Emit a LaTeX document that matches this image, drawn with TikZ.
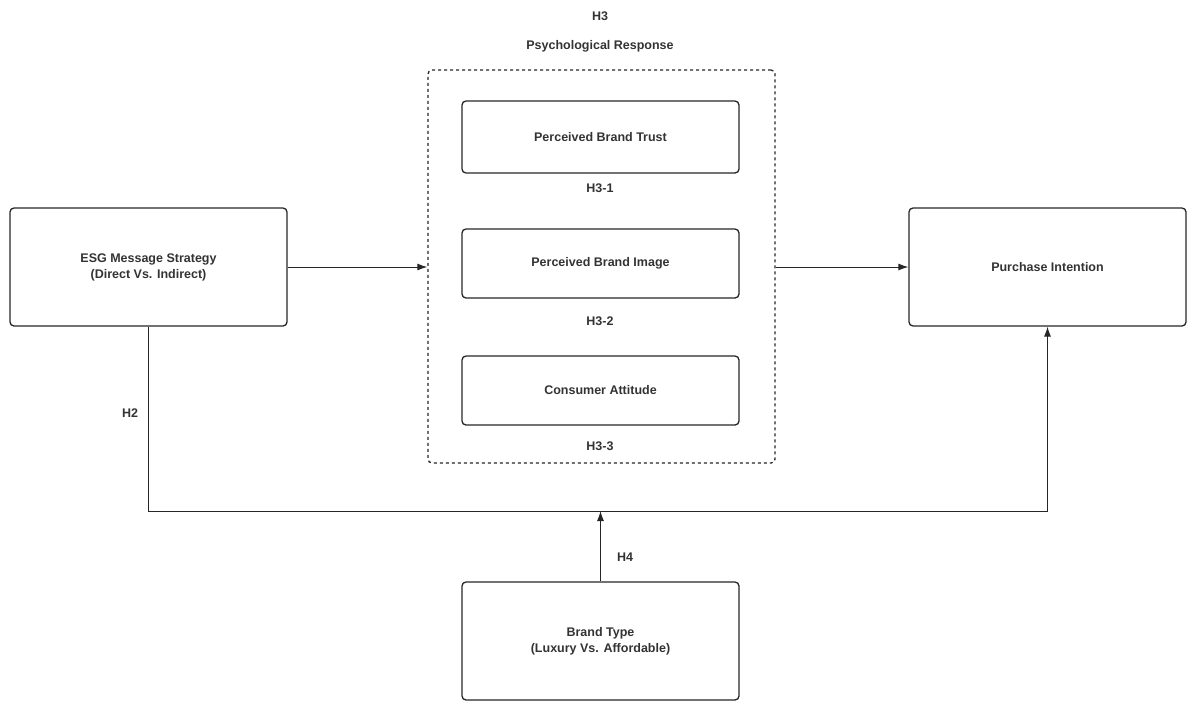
\documentclass[tikz,border=0pt]{standalone}
\usepackage{fontspec}
\setmainfont{Liberation Sans}
\usetikzlibrary{arrows.meta}
\definecolor{tx}{HTML}{333333}
\begin{document}
\begin{tikzpicture}[x=1pt,y=-1pt,
  box/.style={draw=black!85,line width=1.3pt,rounded corners=4pt,inner sep=0pt,align=center,text=tx,font=\fontsize{12.5}{16}\selectfont\bfseries},
  lab/.style={text=tx,font=\fontsize{12.5}{16}\selectfont\bfseries},
  arr/.style={line width=1pt,draw=black!85,-{Latex[length=10pt,width=7pt]}}]
\useasboundingbox (0,0) rectangle (1196,710);
\node[box,minimum width=277pt,minimum height=118pt] (esg) at (148.5,267) {ESG Message Strategy\\(Direct Vs. Indirect)};
\node[box,minimum width=277pt,minimum height=118pt] (pi) at (1047.5,267) {Purchase Intention};
\node[box,minimum width=277pt,minimum height=118pt] (bt) at (600.5,641) {Brand Type\\(Luxury Vs. Affordable)};
\node[box,dashed,minimum width=347pt,minimum height=393pt] (pr) at (601.5,266.5) {};
\node[box,minimum width=277pt,minimum height=72pt] (t) at (600.5,137) {Perceived Brand Trust};
\node[box,minimum width=277pt,minimum height=69pt] (im) at (600.5,263.5) {Perceived Brand Image};
\node[box,minimum width=277pt,minimum height=69pt] (at) at (600.5,390.5) {Consumer Attitude};
\node[lab] (h3) at (600,16) {H3};
\node[lab] (ps) at (600,46) {Psychological Response};
\node[lab] (h31) at (600,188) {H3-1};
\node[lab] (h32) at (600,321) {H3-2};
\node[lab] (h33) at (600,446) {H3-3};
\node[lab] (h2) at (130,413) {H2};
\node[lab] (h4) at (625,557) {H4};
\coordinate (j) at (600.5,511);
\draw[arr] (esg.east) -- (pr.west |- esg.east);
\draw[arr] (pr.east |- pi.west) -- (pi.west);
\draw[arr] (esg.south) |- (j) -| (pi.south);
\draw[arr] (bt.north) -- (j);
\end{tikzpicture}
\end{document}
